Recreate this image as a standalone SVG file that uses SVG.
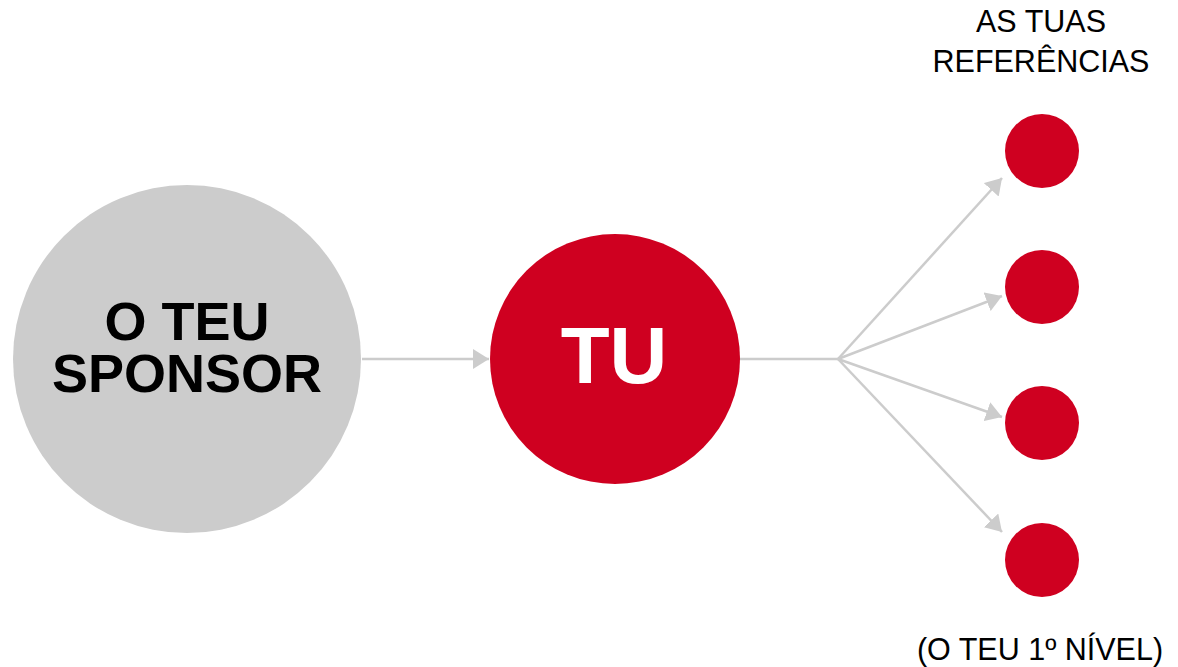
<svg xmlns="http://www.w3.org/2000/svg" width="1178" height="667" viewBox="0 0 1178 667">
<defs>
<marker id="arr" markerUnits="userSpaceOnUse" markerWidth="16" markerHeight="20" refX="16" refY="10" orient="auto">
<path d="M0,0 L16,10 L0,20 Z" fill="#cccccc"/>
</marker>
</defs>
<style>
.lbl{font-family:"Liberation Sans",Arial,sans-serif;font-size:30.5px;fill:#000;text-anchor:middle}
.big{font-family:"Liberation Sans",Arial,sans-serif;font-weight:bold;text-anchor:middle}
.conn{stroke:#cccccc;stroke-width:2.5;fill:none}
.red{fill:#cf0020}
</style>
<rect width="1178" height="667" fill="#ffffff"/>
<g id="connectors">
<line class="conn" x1="362" y1="359" x2="489" y2="359" marker-end="url(#arr)"/>
<polyline class="conn" points="740,359 838,359"/>
<line class="conn" x1="838" y1="359" x2="1002" y2="178" marker-end="url(#arr)"/>
<line class="conn" x1="838" y1="359" x2="1002" y2="296" marker-end="url(#arr)"/>
<line class="conn" x1="838" y1="359" x2="1002" y2="417" marker-end="url(#arr)"/>
<line class="conn" x1="838" y1="359" x2="1002" y2="532" marker-end="url(#arr)"/>
</g>
<g id="sponsor">
<circle cx="187" cy="359" r="174" fill="#cccccc"/>
<text class="big" font-size="54"><tspan x="187" y="340">O TEU</tspan><tspan x="187" y="392">SPONSOR</tspan></text>
</g>
<g id="tu">
<circle class="red" cx="615" cy="359" r="125"/>
<text class="big" x="614" y="383" font-size="80" fill="#ffffff">TU</text>
</g>
<g id="ref1"><circle class="red" cx="1042" cy="151" r="37"/></g>
<g id="ref2"><circle class="red" cx="1042" cy="287" r="37"/></g>
<g id="ref3"><circle class="red" cx="1042" cy="423" r="37"/></g>
<g id="ref4"><circle class="red" cx="1042" cy="560" r="37"/></g>
<g id="label-top">
<text class="lbl"><tspan x="1041" y="32">AS TUAS</tspan><tspan x="1041" y="72">REFERÊNCIAS</tspan></text>
</g>
<g id="label-bottom">
<text class="lbl" x="1040" y="660">(O TEU 1º NÍVEL)</text>
</g>
</svg>
